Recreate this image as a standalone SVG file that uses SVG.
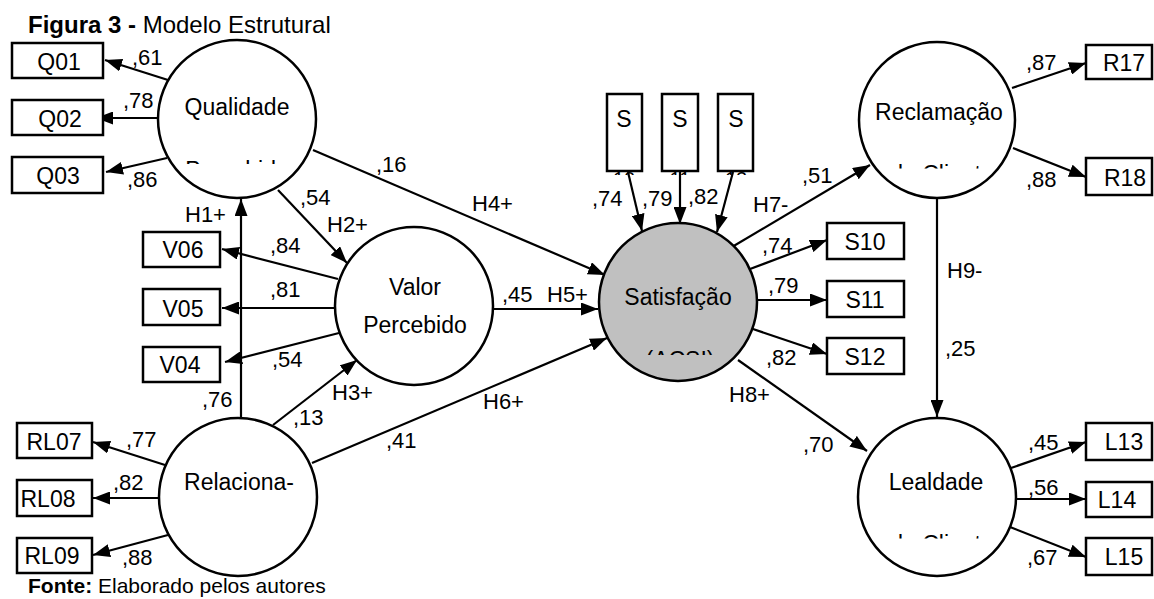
<svg xmlns="http://www.w3.org/2000/svg" width="1154" height="599" viewBox="0 0 1154 599">
<defs>
<marker id="ah" viewBox="0 0 17 13" refX="17" refY="6.5" markerWidth="17" markerHeight="13" markerUnits="userSpaceOnUse" orient="auto">
<path d="M0,0 L17,6.5 L0,13 z" fill="#000"/>
</marker>
<clipPath id="cQ"><rect x="150" y="150" width="180" height="14"/></clipPath>
<clipPath id="cS"><rect x="600" y="340" width="160" height="15"/></clipPath>
<clipPath id="cR"><rect x="860" y="155" width="160" height="13.5"/></clipPath>
<clipPath id="cL"><rect x="860" y="525" width="160" height="13.5"/></clipPath>
<clipPath id="cT"><rect x="600" y="165" width="160" height="10"/></clipPath>
</defs>
<style>
text{font-family:"Liberation Sans",Arial,sans-serif;fill:#000}
.n{font-size:23px;text-anchor:middle}
.b{font-size:23px;text-anchor:middle}
.f{font-size:20px;text-anchor:middle}
.c{font-size:22px}
.circ{fill:#fff;stroke:#000;stroke-width:2.5}
.box{fill:#fff;stroke:#000;stroke-width:2.5}
.ln{stroke:#000;stroke-width:2.2;fill:none;marker-end:url(#ah)}
</style>
<rect width="1154" height="599" fill="#fff"/>
<text x="28" y="33" style="font-size:24px"><tspan font-weight="bold">Figura 3 -</tspan> Modelo Estrutural</text>
<text x="28" y="593" style="font-size:21px"><tspan font-weight="bold">Fonte:</tspan> Elaborado pelos autores</text>

<g id="connectors">
<line class="ln" x1="168" y1="80" x2="105" y2="60"/>
<line class="ln" x1="158" y1="118" x2="96" y2="118"/>
<line class="ln" x1="167" y1="158" x2="106" y2="172"/>
<line class="ln" x1="241" y1="418" x2="241" y2="199"/>
<line class="ln" x1="278" y1="190" x2="347" y2="263"/>
<line class="ln" x1="313" y1="150" x2="605" y2="275"/>
<line class="ln" x1="338" y1="279" x2="222" y2="249"/>
<line class="ln" x1="335" y1="308" x2="222" y2="308"/>
<line class="ln" x1="339" y1="333" x2="225" y2="362"/>
<line class="ln" x1="494" y1="309" x2="598" y2="309"/>
<line class="ln" x1="273" y1="425" x2="357" y2="360"/>
<line class="ln" x1="312" y1="463" x2="607" y2="338"/>
<line class="ln" x1="165" y1="465" x2="93" y2="442"/>
<line class="ln" x1="158" y1="498" x2="93" y2="498"/>
<line class="ln" x1="168" y1="535" x2="93" y2="555"/>
<line class="ln" x1="628" y1="172" x2="642" y2="231"/>
<line class="ln" x1="680" y1="172" x2="680" y2="224"/>
<line class="ln" x1="733" y1="172" x2="717" y2="232"/>
<line class="ln" x1="732" y1="247" x2="870" y2="165"/>
<line class="ln" x1="750" y1="269" x2="827" y2="240"/>
<line class="ln" x1="757" y1="300" x2="827" y2="300"/>
<line class="ln" x1="750" y1="328" x2="827" y2="354"/>
<line class="ln" x1="738" y1="360" x2="867" y2="451"/>
<line class="ln" x1="937" y1="199" x2="937" y2="417"/>
<line class="ln" x1="1012" y1="88" x2="1086" y2="63"/>
<line class="ln" x1="1013" y1="148" x2="1086" y2="177"/>
<line class="ln" x1="1011" y1="468" x2="1086" y2="442"/>
<line class="ln" x1="1016" y1="499" x2="1086" y2="499"/>
<line class="ln" x1="1010" y1="527" x2="1086" y2="557"/>
</g>

<g id="labels">
<text class="c" x="132" y="65">,61</text>
<text class="c" x="123" y="108">,78</text>
<text class="c" x="127" y="187">,86</text>
<text class="c" x="185" y="222">H1+</text>
<text class="c" x="300" y="205">,54</text>
<text class="c" x="327" y="232">H2+</text>
<text class="c" x="376" y="172">,16</text>
<text class="c" x="472" y="211">H4+</text>
<text class="c" x="270" y="253">,84</text>
<text class="c" x="270" y="297">,81</text>
<text class="c" x="272" y="367">,54</text>
<text class="c" x="502" y="302">,45</text>
<text class="c" x="547" y="302">H5+</text>
<text class="c" x="202" y="407">,76</text>
<text class="c" x="293" y="425">,13</text>
<text class="c" x="332" y="400">H3+</text>
<text class="c" x="483" y="409">H6+</text>
<text class="c" x="386" y="448">,41</text>
<text class="c" x="126" y="447">,77</text>
<text class="c" x="113" y="490">,82</text>
<text class="c" x="122" y="565">,88</text>
<text class="c" x="592" y="206">,74</text>
<text class="c" x="642" y="206">,79</text>
<text class="c" x="688" y="204">,82</text>
<text class="c" x="802" y="183">,51</text>
<text class="c" x="753" y="212">H7-</text>
<text class="c" x="762" y="253">,74</text>
<text class="c" x="768" y="293">,79</text>
<text class="c" x="766" y="365">,82</text>
<text class="c" x="729" y="402">H8+</text>
<text class="c" x="803" y="452">,70</text>
<text class="c" x="947" y="278">H9-</text>
<text class="c" x="945" y="356">,25</text>
<text class="c" x="1026" y="70">,87</text>
<text class="c" x="1026" y="187">,88</text>
<text class="c" x="1028" y="450">,45</text>
<text class="c" x="1028" y="495">,56</text>
<text class="c" x="1027" y="565">,67</text>
</g>

<g id="Q01"><rect class="box" x="12" y="43" width="91" height="35"/><text class="b" x="59" y="70">Q01</text></g>
<g id="Q02"><rect class="box" x="12" y="100" width="91" height="35"/><text class="b" x="60" y="127">Q02</text></g>
<g id="Q03"><rect class="box" x="12" y="157" width="91" height="36"/><text class="b" x="58" y="184">Q03</text></g>
<g id="V06"><rect class="box" x="143" y="232" width="77" height="35"/><text class="b" x="183" y="258">V06</text></g>
<g id="V05"><rect class="box" x="143" y="289" width="77" height="36"/><text class="b" x="183" y="317">V05</text></g>
<g id="V04"><rect class="box" x="143" y="347" width="77" height="35"/><text class="b" x="180" y="373">V04</text></g>
<g id="RL07"><rect class="box" x="17" y="423" width="75" height="35"/><text class="b" x="54" y="450">RL07</text></g>
<g id="RL08"><rect class="box" x="17" y="480" width="75" height="36"/><text class="b" x="48" y="507">RL08</text></g>
<g id="RL09"><rect class="box" x="17" y="538" width="75" height="35"/><text class="b" x="52" y="564">RL09</text></g>
<g id="S10top"><rect class="box" x="607" y="94" width="35" height="77"/><text class="b" x="624" y="127">S</text><text class="f" x="624" y="186" clip-path="url(#cT)">10</text></g>
<g id="S11top"><rect class="box" x="662" y="94" width="36" height="77"/><text class="b" x="680" y="127">S</text><text class="f" x="680" y="186" clip-path="url(#cT)">11</text></g>
<g id="S12top"><rect class="box" x="718" y="94" width="35" height="77"/><text class="b" x="736" y="127">S</text><text class="f" x="736" y="186" clip-path="url(#cT)">12</text></g>
<g id="S10"><rect class="box" x="827" y="223" width="77" height="36"/><text class="b" x="865" y="250">S10</text></g>
<g id="S11"><rect class="box" x="827" y="281" width="77" height="36"/><text class="b" x="865" y="308">S11</text></g>
<g id="S12"><rect class="box" x="827" y="338" width="77" height="36"/><text class="b" x="865" y="365">S12</text></g>
<g id="R17"><rect class="box" x="1086" y="45" width="66" height="34"/><text class="b" x="1124" y="71">R17</text></g>
<g id="R18"><rect class="box" x="1086" y="158" width="66" height="37"/><text class="b" x="1125" y="186">R18</text></g>
<g id="L13"><rect class="box" x="1086" y="423" width="66" height="37"/><text class="b" x="1124" y="450">L13</text></g>
<g id="L14"><rect class="box" x="1086" y="482" width="66" height="35"/><text class="b" x="1117" y="508">L14</text></g>
<g id="L15"><rect class="box" x="1086" y="538" width="66" height="37"/><text class="b" x="1124" y="565">L15</text></g>

<g id="Qualidade"><circle class="circ" cx="237" cy="119" r="79"/><text class="n" x="237" y="115">Qualidade</text><text class="n" x="237" y="178" clip-path="url(#cQ)">Percebida</text></g>
<g id="ValorPercebido"><circle class="circ" cx="414" cy="306" r="79"/><text class="n" x="415" y="295">Valor</text><text class="n" x="415" y="333">Percebido</text></g>
<g id="Relacionamento"><circle class="circ" cx="238" cy="497" r="79"/><text class="n" x="239" y="490">Relaciona-</text></g>
<g id="Satisfacao"><circle class="circ" cx="678" cy="302" r="79" style="fill:#c0c0c0"/><text class="n" x="678" y="305">Satisfação</text><text class="n" x="680" y="368" clip-path="url(#cS)">(ACSI)</text></g>
<g id="Reclamacao"><circle class="circ" cx="937" cy="120" r="78"/><text class="n" x="939" y="120">Reclamação</text><text class="n" x="942" y="182" clip-path="url(#cR)">do Cliente</text></g>
<g id="Lealdade"><circle class="circ" cx="937" cy="497" r="79"/><text class="n" x="936" y="490">Lealdade</text><text class="n" x="942" y="552" clip-path="url(#cL)">do Cliente</text></g>
</svg>
